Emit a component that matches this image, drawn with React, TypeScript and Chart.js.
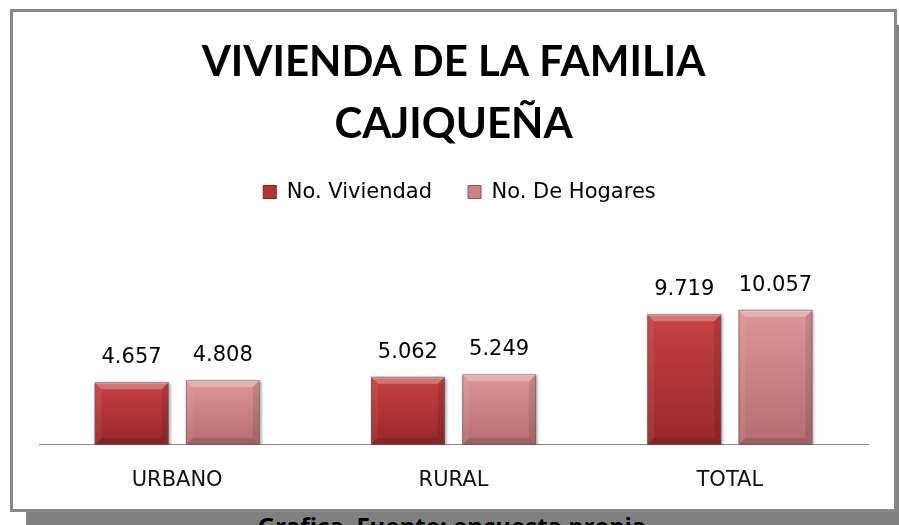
import React, { useEffect, useRef } from "react";
import { Chart, registerables } from "chart.js";

Chart.register(...registerables);

const titleLines = ["VIVIENDA DE LA FAMILIA", "CAJIQUEÑA"];
const categories = ["URBANO", "RURAL", "TOTAL"];
const seriesNames = ["No. Viviendad", "No. De Hogares"];
const viviendas = [4657, 5062, 9719];
const hogares = [4808, 5249, 10057];
const caption = "Grafica  Fuente: encuesta propia";

const palettes = [
  { top: "#C74142", bottom: "#982829", legend: "#B23536", legendBorder: "#7A1F20" },
  { top: "#DF9698", bottom: "#B56D6F", legend: "#C98586", legendBorder: "#8E5254" },
];

const fmt = (v: number) => String(v).replace(/\B(?=(\d{3})+(?!\d))/g, ".");

const legendShiftPlugin = {
  id: "legendShift",
  afterLayout(chart: any) {
    if (chart.legend) {
      chart.legend.left += 6;
      chart.legend.right += 6;
    }
  },
};

const bevelPlugin = {
  id: "bevelLabels",
  beforeDatasetsDraw(chart: any) {
    const c = chart.ctx;
    c.save();
    c.shadowColor = "rgba(0,0,0,0.35)";
    c.shadowBlur = 3;
    c.shadowOffsetX = 2;
    c.shadowOffsetY = 1;
  },
  afterDatasetsDraw(chart: any) {
    const c = chart.ctx;
    c.restore();
    const poly = (pts: number[][], fill: string) => {
      c.beginPath();
      c.moveTo(pts[0][0], pts[0][1]);
      for (let i = 1; i < pts.length; i++) c.lineTo(pts[i][0], pts[i][1]);
      c.closePath();
      c.fillStyle = fill;
      c.fill();
    };
    chart.data.datasets.forEach((ds: any, di: number) => {
      const meta = chart.getDatasetMeta(di);
      meta.data.forEach((el: any, i: number) => {
        const { x, y, base, width } = el.getProps(["x", "y", "base", "width"], true);
        const l = x - width / 2;
        const r = x + width / 2;
        const t = y;
        const b = base;
        const k = 7;
        c.save();
        poly([[l, t], [r, t], [r - k, t + k], [l + k, t + k]], "rgba(255,255,255,0.28)");
        poly([[l, t], [l + k, t + k], [l + k, b - k], [l, b]], "rgba(255,255,255,0.06)");
        poly([[r, t], [r - k, t + k], [r - k, b - k], [r, b]], "rgba(0,0,0,0.10)");
        poly([[l, b], [l + k, b - k], [r - k, b - k], [r, b]], "rgba(0,0,0,0.12)");
        c.fillStyle = "rgba(255,255,255,0.45)";
        c.fillRect(l, t, width, 1.5);
        c.strokeStyle = "rgba(90,90,90,0.55)";
        c.lineWidth = 1;
        c.strokeRect(l + 0.5, t + 0.5, width - 1, b - t - 1);
        c.restore();

        c.save();
        c.font = '21px "DejaVu Sans"';
        c.fillStyle = "#000";
        c.textAlign = "center";
        c.textBaseline = "alphabetic";
        c.fillText(fmt(ds.data[i]), x, t - 19);
        c.restore();
      });
    });
  },
};

const makeBg = (di: number) => (ctx: any) => {
  const pal = palettes[di];
  const chart = ctx.chart;
  if (!chart.chartArea || ctx.type !== "data" || !chart.scales.y) return pal.top;
  const y = chart.scales.y.getPixelForValue(ctx.raw);
  const base = chart.scales.y.getPixelForValue(0);
  const g = chart.ctx.createLinearGradient(0, y, 0, base);
  g.addColorStop(0, pal.top);
  g.addColorStop(1, pal.bottom);
  return g;
};

export default function App() {
  const ref = useRef<HTMLCanvasElement | null>(null);

  useEffect(() => {
    if (!ref.current) return;
    const chart = new Chart(ref.current, {
      type: "bar",
      data: {
        labels: categories,
        datasets: [
          {
            label: seriesNames[0],
            data: viviendas,
            backgroundColor: makeBg(0),
            borderWidth: 0,
            categoryPercentage: 0.66,
            barPercentage: 0.81,
          },
          {
            label: seriesNames[1],
            data: hogares,
            backgroundColor: makeBg(1),
            borderWidth: 0,
            categoryPercentage: 0.66,
            barPercentage: 0.81,
          },
        ],
      },
      options: {
        animation: false,
        responsive: false,
        devicePixelRatio: 1,
        layout: { padding: { left: 26, right: 26, top: 0, bottom: -7 } },
        plugins: {
          tooltip: { enabled: false },
          title: {
            display: true,
            text: titleLines,
            color: "#000",
            font: { family: "Lato", size: 42, weight: "bold", lineHeight: 1.465 },
            padding: { top: 20, bottom: -9.5 },
          },
          legend: {
            display: true,
            position: "top",
            labels: {
              font: { family: "DejaVu Sans", size: 21 },
              color: "#000",
              boxWidth: 13,
              boxHeight: 13,
              padding: 36,
              generateLabels: (ch: any) =>
                ch.data.datasets.map((ds: any, i: number) => ({
                  text: ds.label,
                  fillStyle: palettes[i].legend,
                  strokeStyle: palettes[i].legendBorder,
                  lineWidth: 1,
                  hidden: false,
                  datasetIndex: i,
                  fontColor: "#000",
                })),
            },
          },
        },
        scales: {
          x: {
            grid: { display: false, drawTicks: false },
            border: { display: true, color: "#8A8A8A", width: 1 },
            ticks: {
              color: "#111",
              font: { family: "DejaVu Sans", size: 21 },
              padding: 23,
            },
          },
          y: {
            display: false,
            min: 0,
            max: 17300,
          },
        },
      },
      plugins: [legendShiftPlugin, bevelPlugin],
    } as any);
    return () => chart.destroy();
  }, []);

  return (
    <div
      style={{
        position: "fixed",
        left: 0,
        top: 0,
        width: 899,
        height: 525,
        background: "#fff",
        overflow: "hidden",
      }}
    >
      <div
        style={{
          position: "absolute",
          left: 26,
          top: 25,
          width: 873,
          height: 500,
          background: "#808080",
        }}
      />
      <div
        style={{
          position: "absolute",
          left: 10,
          top: 9,
          width: 887,
          height: 503,
          boxSizing: "border-box",
          border: "3px solid #888888",
          background: "#fff",
        }}
      >
        <canvas ref={ref} width={881} height={497} style={{ display: "block", width: 881, height: 497 }} />
      </div>
      <div
        style={{
          position: "absolute",
          left: 0,
          top: 510,
          width: 904,
          textAlign: "center",
          font: 'bold 24px "Open Sans"',
          lineHeight: "32px",
          color: "#000",
          whiteSpace: "pre",
        }}
      >
        {caption}
      </div>
    </div>
  );
}
